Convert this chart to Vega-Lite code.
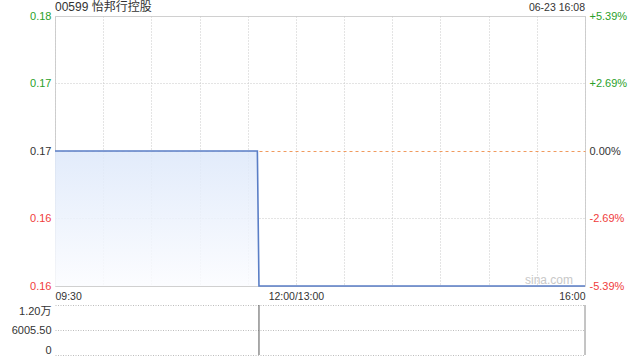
{
  "$schema": "https://vega.github.io/schema/vega-lite/v6.json",
  "autosize": {"type": "pad"},
  "padding": {"left": 11, "top": 0, "right": 5, "bottom": 0},
  "background": "white",
  "config": {
    "font": "Liberation Sans, Noto Sans CJK SC",
    "view": {"stroke": null},
    "axis": {"labelFont": "Liberation Sans, Noto Sans CJK SC", "labelColor": "#333", "domain": false, "ticks": false, "tickSize": 0}
  },
  "datasets": {
    "price": [
      {"t": 0, "price": 0.167, "base": 0.158},
      {"t": 126, "price": 0.167, "base": 0.158},
      {"t": 127, "price": 0.158, "base": 0.158},
      {"t": 330, "price": 0.158, "base": 0.158}
    ],
    "volume": [
      {"t": 127, "lo": 0, "vol": 12011}
    ],
    "labels": [
      {"label": "00599 怡邦行控股", "t": 0, "p": 0.176, "pos": "left"},
      {"label": "06-23 16:08", "t": 330, "p": 0.176, "pos": "right"}
    ]
  },
  "vconcat": [
    {
      "width": 530,
      "height": 270,
      "view": {"stroke": "#d0d0d0"},
      "layer": [
        {
          "layer": [
            {
              "data": {"name": "price"},
              "mark": {"type": "area", "opacity": 0.85, "color": {"gradient": "linear", "x1": 0, "y1": 0, "x2": 0, "y2": 1, "stops": [{"offset": 0, "color": "#dde8fa"}, {"offset": 1, "color": "#fbfcff"}]}},
              "encoding": {
                "x": {"field": "t", "type": "quantitative", "scale": {"domain": [0, 330], "nice": false, "zero": false},
                  "axis": {"values": [0, 30, 60, 90, 120, 150, 180, 210, 240, 270, 300, 330], "tickCount": 20, "title": null, "labelFontSize": 10.5, "labelPadding": 5, "labelFlush": true, "labelOverlap": false,
                    "labelExpr": "datum.value == 0 ? '09:30' : datum.value == 150 ? '12:00/13:00' : datum.value == 330 ? '16:00' : ''",
                    "grid": true, "gridColor": "#c8c8c8", "gridDash": [1, 2], "gridWidth": 1}},
                "y": {"field": "price", "type": "quantitative", "scale": {"domain": [0.158, 0.176], "nice": false, "zero": false},
                  "axis": {"orient": "left", "values": [0.158, 0.1625, 0.167, 0.1715, 0.176], "tickCount": 10, "title": null, "labelFontSize": 11, "labelPadding": 4, "labelOverlap": false,
                    "labelExpr": "datum.value >= 0.175 ? '0.18' : datum.value >= 0.166 ? '0.17' : '0.16'",
                    "labelColor": {"condition": [{"test": "datum.value > 0.1671", "value": "#2a9f2a"}, {"test": "datum.value < 0.1669", "value": "#f03c3c"}], "value": "#333333"},
                    "grid": true, "gridWidth": 1,
                    "gridColor": {"condition": {"test": "abs(datum.value - 0.167) < 0.0001", "value": "#f09a5e"}, "value": "#c8c8c8"},
                    "gridDash": {"condition": {"test": "abs(datum.value - 0.167) < 0.0001", "value": [3, 3]}, "value": [1, 2]},
                    "gridOpacity": {"condition": {"test": "datum.value > 0.1755 || datum.value < 0.1585", "value": 0}, "value": 1}
                  }},
                "y2": {"field": "base"}
              }
            },
            {
              "data": {"name": "price"},
              "mark": {"type": "line", "color": "#5a7ec6", "strokeWidth": 1.6},
              "encoding": {
                "x": {"field": "t", "type": "quantitative"},
                "y": {"field": "price", "type": "quantitative"}
              }
            },
            {
              "data": {"name": "labels"},
              "transform": [{"filter": "datum.pos == 'left'"}],
              "mark": {"type": "text", "align": "left", "baseline": "bottom", "dy": -2, "fontSize": 12, "color": "#333"},
              "encoding": {
                "x": {"field": "t", "type": "quantitative"},
                "y": {"field": "p", "type": "quantitative"},
                "text": {"field": "label"}
              }
            },
            {
              "data": {"name": "labels"},
              "transform": [{"filter": "datum.pos == 'right'"}],
              "mark": {"type": "text", "align": "right", "baseline": "bottom", "dy": -3, "fontSize": 10.5, "color": "#333"},
              "encoding": {
                "x": {"field": "t", "type": "quantitative"},
                "y": {"field": "p", "type": "quantitative"},
                "text": {"field": "label"}
              }
            },
            {
              "data": {"values": [{"label": "sina.com", "t": 330, "p": 0.158}]},
              "mark": {"type": "text", "align": "right", "baseline": "alphabetic", "dx": -12, "dy": -2, "fontSize": 12, "color": "#c8c8c8"},
              "encoding": {
                "x": {"field": "t", "type": "quantitative"},
                "y": {"field": "p", "type": "quantitative"},
                "text": {"field": "label"}
              }
            }
          ]
        },
        {
          "data": {"name": "price"},
          "mark": {"type": "point", "opacity": 0},
          "encoding": {
            "x": {"field": "t", "type": "quantitative"},
            "y": {"field": "price", "type": "quantitative", "scale": {"domain": [0.158, 0.176], "nice": false, "zero": false},
              "axis": {"orient": "right", "values": [0.158, 0.1625, 0.167, 0.1715, 0.176], "tickCount": 10, "title": null, "labelFontSize": 11, "labelPadding": 4, "grid": false, "labelOverlap": false,
                "labelExpr": "abs(datum.value - 0.167) < 0.0001 ? '0.00%' : (datum.value > 0.167 ? '+' : '-') + format(abs(datum.value - 0.167) / 0.167 * 100, '.2f') + '%'",
                "labelColor": {"condition": [{"test": "datum.value > 0.1671", "value": "#2a9f2a"}, {"test": "datum.value < 0.1669", "value": "#f03c3c"}], "value": "#333333"}}}
          }
        }
      ],
      "resolve": {"scale": {"y": "independent"}, "axis": {"y": "independent"}}
    },
    {
      "width": 530,
      "height": 50,
      "layer": [
        {
          "data": {"name": "volume"},
          "mark": {"type": "rule", "color": "#555555", "strokeWidth": 1},
          "encoding": {
            "x": {"field": "t", "type": "quantitative", "scale": {"domain": [0, 330], "nice": false, "zero": false}, "axis": null},
            "y": {"field": "lo", "type": "quantitative", "scale": {"domain": [0, 12011], "nice": false},
              "axis": {"values": [0, 6005.5, 12011], "tickCount": 5, "title": null, "labelFontSize": 11, "labelPadding": 4, "labelOverlap": false, "grid": true, "gridColor": "#bdbdbd", "gridDash": [1, 1.5],
                "labelBaseline": {"condition": [{"test": "datum.value > 12000", "value": "top"}, {"test": "datum.value == 0", "value": "bottom"}], "value": "middle"},
                "labelExpr": "datum.value > 12000 ? '1.20万' : datum.value == 0 ? '0' : format(datum.value, '.2f')"}},
            "y2": {"field": "vol"}
          }
        },
        {
          "data": {"values": [{"t": 330, "lo": 0, "hi": 12011}]},
          "mark": {"type": "rule", "color": "#8a8a8a", "strokeWidth": 1},
          "encoding": {
            "x": {"field": "t", "type": "quantitative"},
            "y": {"field": "lo", "type": "quantitative"},
            "y2": {"field": "hi"}
          }
        }
      ]
    }
  ],
  "spacing": 19,
  "bounds": "flush"
}
